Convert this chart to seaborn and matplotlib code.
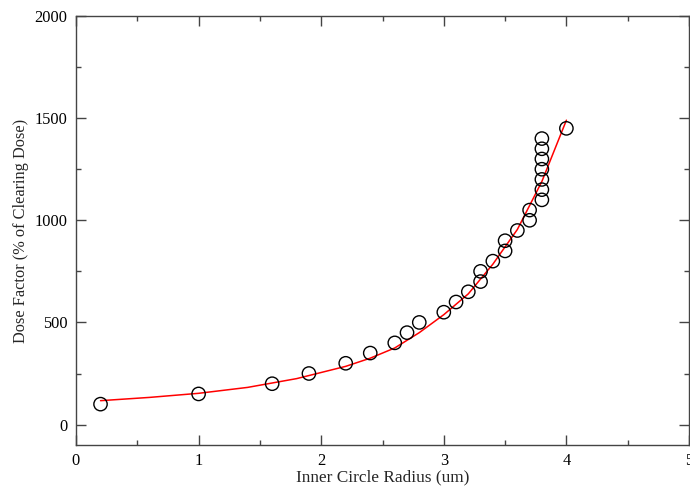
import numpy as np
import pandas as pd
import matplotlib
matplotlib.use("Agg")
import matplotlib.pyplot as plt
from matplotlib.ticker import MultipleLocator
import seaborn as sns

# Measured dose factor vs. inner circle radius
radius_um = [0.2, 1.0, 1.6, 1.9, 2.2, 2.4, 2.6, 2.7, 2.8, 3.0, 3.1, 3.2, 3.3, 3.3,
             3.4, 3.5, 3.5, 3.6, 3.7, 3.7, 3.8, 3.8, 3.8, 3.8, 3.8, 3.8, 3.8, 4.0]
dose_factor = [100, 150, 200, 250, 300, 350, 400, 450, 500, 550, 600, 650, 700, 750,
               800, 850, 900, 950, 1000, 1050, 1100, 1150, 1200, 1250, 1300, 1350, 1400, 1450]

# Fitted trend curve
fit_radius = [0.2, 0.6, 1.0, 1.4, 1.8, 2.2, 2.4, 2.6, 2.8, 3.0, 3.2, 3.4, 3.6, 3.8, 4.0]
fit_dose = [117, 133, 153, 182, 225, 285, 325, 375, 450, 538, 640, 785, 955, 1190, 1490]

x_ticks = [0, 1, 2, 3, 4, 5]
y_ticks = [0, 500, 1000, 1500, 2000]

points = pd.DataFrame({"radius": radius_um, "dose": dose_factor})
fit = pd.DataFrame({"radius": fit_radius, "dose": fit_dose})

sns.set_theme(style="ticks")
plt.rcParams["font.family"] = ["Liberation Serif", "DejaVu Serif"]
plt.rcParams["font.size"] = 11.5

fig = plt.figure(figsize=(6.9, 4.86), dpi=100)
ax = fig.add_axes([76 / 690, 41 / 486, 613 / 690, 429 / 486])

sns.lineplot(data=fit, x="radius", y="dose", ax=ax, color="red", linewidth=1.1,
             sort=False, estimator=None)
sns.scatterplot(data=points, x="radius", y="dose", ax=ax, marker="o", s=92,
                facecolor="none", edgecolor="black", linewidth=1.0, zorder=3)

ax.set_xlim(0, 5)
ax.set_ylim(-100, 2000)
ax.set_xticks(x_ticks)
ax.set_yticks(y_ticks)
ax.xaxis.set_minor_locator(MultipleLocator(0.5))
ax.yaxis.set_minor_locator(MultipleLocator(250))
ax.tick_params(which="both", direction="in", top=True, right=True,
               color="#444444", width=1.0, labelsize=11.8, labelcolor="black")
ax.tick_params(which="major", length=7.2, pad=6)
ax.tick_params(which="minor", length=3.6)
for s in ax.spines.values():
    s.set_color("#444444")
    s.set_linewidth(1.0)

ax.set_xlabel("Inner Circle Radius (um)", fontsize=12.4, labelpad=0)
ax.set_ylabel("Dose Factor (% of Clearing Dose)", fontsize=11.8, labelpad=4)

fig.savefig("out.png", dpi=100)
